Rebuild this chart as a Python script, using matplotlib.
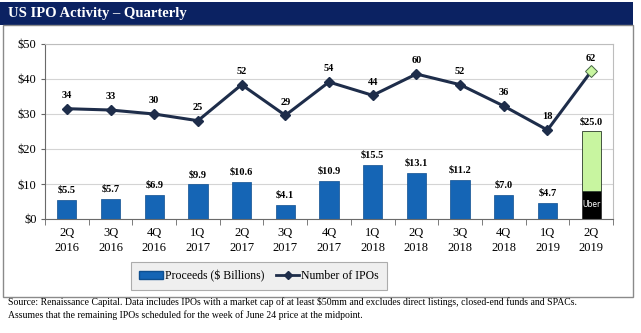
import matplotlib
matplotlib.use("Agg")
import matplotlib.pyplot as plt
from matplotlib.patches import Rectangle, Patch
from matplotlib.lines import Line2D

quarters = ["2Q\n2016", "3Q\n2016", "4Q\n2016", "1Q\n2017", "2Q\n2017", "3Q\n2017", "4Q\n2017",
            "1Q\n2018", "2Q\n2018", "3Q\n2018", "4Q\n2018", "1Q\n2019", "2Q\n2019"]
proceeds = [5.5, 5.7, 6.9, 9.9, 10.6, 4.1, 10.9, 15.5, 13.1, 11.2, 7.0, 4.7, 25.0]
uber = 8.1
num_ipos = [34, 33, 30, 25, 52, 29, 54, 44, 60, 52, 36, 18, 62]
yticks = [0, 10, 20, 30, 40, 50]

plt.rcParams['font.family'] = ['Liberation Serif', 'DejaVu Serif']

W, H = 641, 333
fig = plt.figure(figsize=(W / 100, H / 100), dpi=100)

def fx(px):
    return px / W

def fy(py):
    return (H - py) / H

# Title bar
fig.patches.append(Rectangle((0, fy(25)), fx(633), fy(2) - fy(25), transform=fig.transFigure,
                             facecolor="#0b2262", edgecolor="none", zorder=0))
fig.text(fx(8), fy(13.5), "US IPO Activity \u2013 Quarterly", color="white", fontsize=10.5,
         fontweight="bold", va="center", ha="left")
# Frame
fig.patches.append(Rectangle((fx(3), fy(297)), fx(630), fy(25) - fy(297), transform=fig.transFigure,
                             facecolor="none", edgecolor="#8a8a8a", lw=1.0, zorder=0))

ax = fig.add_axes([fx(45), fy(219), fx(613) - fx(45), fy(44) - fy(219)])
n = len(quarters)
x = list(range(n))
bar_color = "#1565b5"
dark = "#1e2d4a"

ax.bar(x[:-1], proceeds[:-1], width=0.44, color=bar_color, edgecolor="#0f4f8f", lw=0.5, zorder=2)
ax.bar(x[-1], uber, width=0.44, color="black", edgecolor="#333333", lw=0.6, zorder=2)
ax.bar(x[-1], proceeds[-1] - uber, bottom=uber, width=0.44, color="#c8f5a0",
       edgecolor="#2a3a2a", lw=0.6, zorder=2)
ax.text(x[-1], uber / 2, "Uber", color="white", fontsize=5.5, ha="center", va="center",
        family="DejaVu Sans", zorder=3)
for xi, v in zip(x, proceeds):
    ax.text(xi, v + 1.5, f"${v:.1f}", ha="center", va="bottom", fontsize=7.5, fontweight="bold", zorder=3)

ax.set_xlim(-0.5, n - 0.5)
ax.set_ylim(0, 50)
ax.set_yticks(yticks)
ax.set_yticklabels([f"${t}" for t in yticks], fontsize=9)
ax.set_xticks(x)
ax.set_xticklabels(quarters, fontsize=9, linespacing=1.3)
ax.set_xticks([i + 0.5 for i in range(-1, n)], minor=True)
ax.tick_params(axis="x", which="major", length=0, pad=6)
ax.tick_params(axis="x", which="minor", length=4, color="#666666", direction="out")
ax.tick_params(axis="y", length=3, color="#666666", pad=3)
ax.grid(axis="y", color="#d4d4d4", lw=0.8, zorder=0)
ax.set_axisbelow(True)
for s in ["left", "bottom"]:
    ax.spines[s].set_color("#6a6a6a")
for s in ["top", "right"]:
    ax.spines[s].set_color("#bdbdbd")

ax2 = ax.twinx()
ax2.set_ylim(-48.7, 82.5)
ax2.axis("off")
ax2.plot(x, num_ipos, color=dark, lw=2.2, marker="D", markersize=5.5, zorder=4)
ax2.plot([x[-1]], [num_ipos[-1]], marker="D", markersize=6, color="#c8f5a0",
         markeredgecolor="#4a6a4a", markeredgewidth=0.7, zorder=5)
for xi, v in zip(x, num_ipos):
    ax2.text(xi, v + 6.5, f"{v}", ha="center", va="bottom", fontsize=7.5, fontweight="bold")

handles = [Patch(facecolor=bar_color, edgecolor="#0f4f8f"),
           Line2D([0], [0], color=dark, lw=2, marker="D", markersize=4)]
leg = fig.legend(handles, ["Proceeds ($ Billions)", "Number of IPOs"], loc="center",
                 bbox_to_anchor=(fx(259), fy(276)), ncol=2, fontsize=8.5, frameon=True,
                 fancybox=False, facecolor="#ececec", edgecolor="#9a9a9a", handlelength=2.0,
                 handleheight=0.6, columnspacing=1.0, handletextpad=0.15, borderpad=0.7,
                 borderaxespad=0)
leg.get_frame().set_linewidth(0.8)

fig.text(fx(8), fy(302), "Source: Renaissance Capital. Data includes IPOs with a market cap of at least $50mm and excludes direct listings, closed-end funds and SPACs.",
         fontsize=7, ha="left", va="center")
fig.text(fx(8), fy(315), "Assumes that the remaining IPOs scheduled for the week of June 24 price at the midpoint.",
         fontsize=7, ha="left", va="center")

fig.savefig("out.png", dpi=100)
